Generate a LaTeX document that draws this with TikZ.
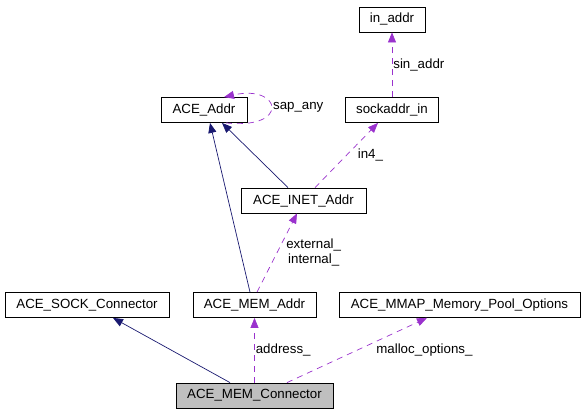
\documentclass[tikz,border=0pt]{standalone}
\usepackage{fontspec}
\setmainfont{Liberation Sans}
\usetikzlibrary{arrows.meta}

\definecolor{navyedge}{HTML}{191970}
\definecolor{orchidedge}{HTML}{9A32CD}
\definecolor{greyfill}{HTML}{BFBFBF}

\begin{document}
\begin{tikzpicture}[x=1pt,y=-1pt,>={Triangle[length=10pt,width=8pt]},
  font=\fontsize{13.3pt}{15pt}\selectfont,
  class/.style={draw,line width=0.8pt,minimum height=25pt,inner sep=0pt},
  inherit/.style={->,navyedge,line width=0.7pt},
  usage/.style={->,orchidedge,line width=0.7pt,dash pattern=on 6pt off 5pt},
  lbl/.style={anchor=west,inner sep=1pt,text=black,align=center}]

\useasboundingbox (0,0) rectangle (584,413);

\node[class,minimum width=66pt]   (inaddr)  at (392,19.5)  {in\_addr};
\node[class,minimum width=86pt]   (addr)    at (204,110)   {ACE\_Addr};
\node[class,minimum width=93pt]   (sockin)  at (392,110)   {sockaddr\_in};
\node[class,minimum width=125pt]  (inet)    at (303.5,200.5) {ACE\_INET\_Addr};
\node[class,minimum width=164pt]  (sock)    at (87,305)    {ACE\_SOCK\_Connector};
\node[class,minimum width=123pt]  (memaddr) at (254.5,305) {ACE\_MEM\_Addr};
\node[class,minimum width=241pt]  (mmap)    at (459.5,305) {ACE\_MMAP\_Memory\_Pool\_Options};
\node[class,minimum width=157pt,fill=greyfill] (conn) at (254.5,395.5) {ACE\_MEM\_Connector};

% base classes
\path[inherit] ([xshift=-24.5pt]conn.north)   edge ([xshift=26pt]sock.south)
               ([xshift=-4.5pt]memaddr.north) edge ([xshift=6pt]addr.south)
               ([xshift=-15.5pt]inet.north)   edge ([xshift=18pt]addr.south);

% members
\path[usage] (conn.north) edge node[lbl]{address\_} (memaddr.south)
             ([xshift=32.5pt]conn.north) edge node[lbl,xshift=18pt]{malloc\_options\_} ([xshift=-32.5pt]mmap.south)
             ([xshift=2.5pt]memaddr.north) edge node[lbl,xshift=8pt]{external\_\\internal\_} ([xshift=-6.5pt]inet.south)
             ([xshift=11.5pt]inet.north) edge node[lbl,xshift=10pt]{in4\_} ([xshift=-14pt]sockin.south)
             (sockin.north) edge node[lbl]{sin\_addr} (inaddr.south);

\draw[usage] ([xshift=22pt]addr.south) .. controls (290,130) and (282,84) ..
  node[lbl,xshift=1pt]{sap\_any} ([xshift=20pt]addr.north);

\end{tikzpicture}
\end{document}
